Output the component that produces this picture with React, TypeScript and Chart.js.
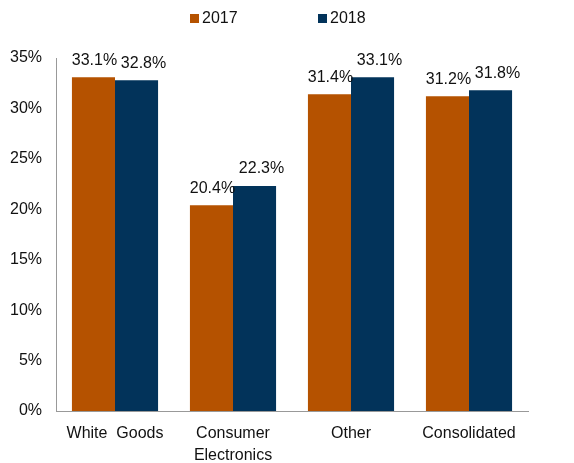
import React, { useEffect, useRef } from "react";
import { Chart, registerables } from "chart.js";

Chart.register(...registerables);

const categories: (string | string[])[] = ["White  Goods", ["Consumer", "Electronics"], "Other", "Consolidated"];
const values2017 = [33.1, 20.4, 31.4, 31.2];
const values2018 = [32.8, 22.3, 33.1, 31.8];
const seriesNames = ["2017", "2018"];
const colors = ["#B55200", "#02335A"];
const yTicks = [0, 5, 10, 15, 20, 25, 30, 35];

const FONT = "'Liberation Sans', Arial, sans-serif";

const labelPlugin = {
  id: "barLabels",
  afterDatasetsDraw(chart: any) {
    const ctx = chart.ctx;
    ctx.save();
    ctx.font = `16px ${FONT}`;
    ctx.fillStyle = "#111";
    ctx.textAlign = "center";
    ctx.textBaseline = "bottom";
    chart.data.datasets.forEach((ds: any, i: number) => {
      const meta = chart.getDatasetMeta(i);
      const dx = i === 0 ? 1 : 7;
      meta.data.forEach((bar: any, j: number) => {
        ctx.fillText(ds.data[j].toFixed(1) + "%", bar.x + dx, bar.y - 9);
      });
    });
    ctx.restore();
  },
};

export default function App() {
  const ref = useRef<HTMLCanvasElement>(null);
  useEffect(() => {
    document.body.style.margin = "0";
    const chart = new Chart(ref.current!, {
      type: "bar",
      data: {
        labels: categories,
        datasets: [
          { label: seriesNames[0], data: values2017, backgroundColor: colors[0], categoryPercentage: 0.73, barPercentage: 1 },
          { label: seriesNames[1], data: values2018, backgroundColor: colors[1], categoryPercentage: 0.73, barPercentage: 1 },
        ],
      },
      options: {
        animation: false,
        responsive: false,
        maintainAspectRatio: false,
        layout: { padding: { top: 58, right: 46, left: 0, bottom: 0 } },
        plugins: { legend: { display: false }, tooltip: { enabled: false } },
        scales: {
          x: {
            grid: { display: false, drawTicks: false },
            border: { color: "#999", width: 1 },
            ticks: { color: "#111", font: { family: FONT, size: 16, lineHeight: 1.4 }, padding: 11, maxRotation: 0, autoSkip: false },
            afterFit: (s: any) => { s.height = 52; },
          },
          y: {
            min: 0,
            max: 35,
            afterBuildTicks: (s: any) => { s.ticks = yTicks.map((v) => ({ value: v })); },
            grid: { display: false, drawTicks: false },
            border: { color: "#999", width: 1 },
            ticks: { color: "#111", font: { family: FONT, size: 16 }, padding: 14, callback: (v: any) => v + "%" },
            afterFit: (s: any) => { s.width = 56; },
          },
        },
      },
      plugins: [labelPlugin],
    });
    return () => chart.destroy();
  }, []);

  const legendItem = (i: number, left: number) => (
    <div style={{ position: "absolute", left, top: 9, display: "flex", alignItems: "center", fontFamily: FONT, fontSize: 16, color: "#111" }}>
      <span style={{ display: "inline-block", width: 9, height: 9, background: colors[i], marginRight: 3 }} />
      <span>{seriesNames[i]}</span>
    </div>
  );

  return (
    <div style={{ position: "relative", width: 574, height: 463 }}>
      <canvas ref={ref} width={574} height={463} style={{ display: "block" }} />
      {legendItem(0, 190)}
      {legendItem(1, 318)}
    </div>
  );
}
